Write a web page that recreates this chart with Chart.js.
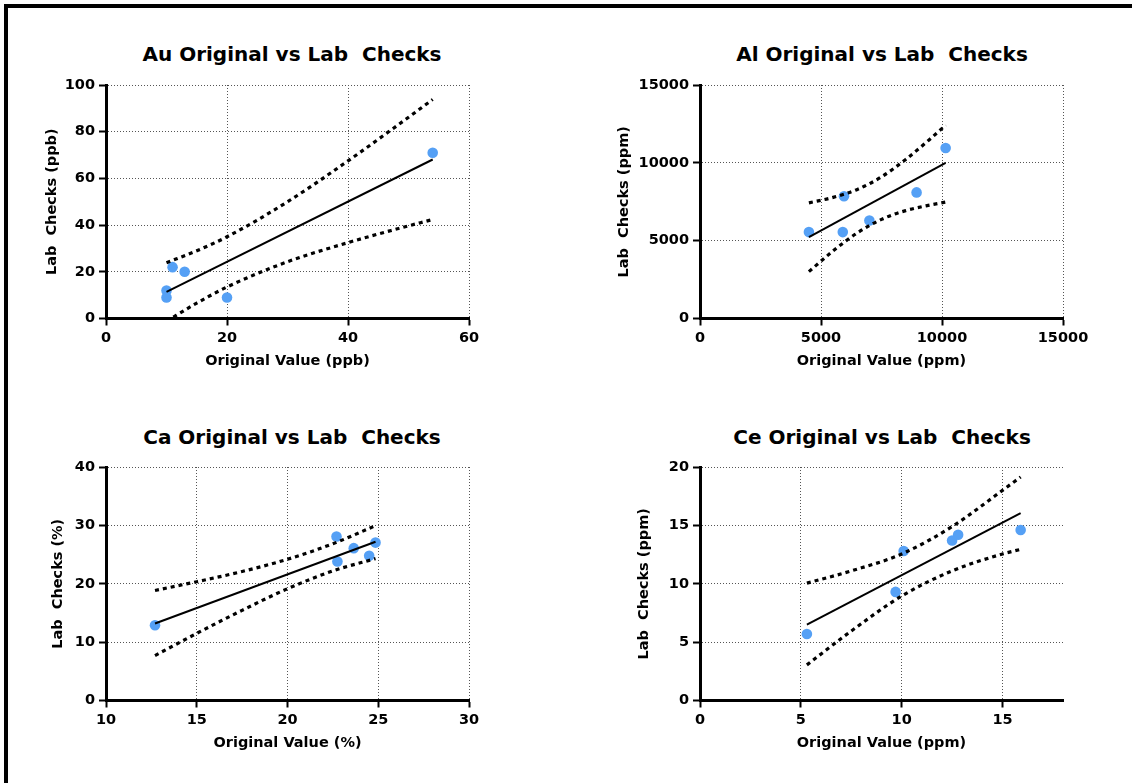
<!DOCTYPE html>
<html>
<head>
<meta charset="utf-8">
<script src="https://cdn.jsdelivr.net/npm/chart.js@4/dist/chart.umd.min.js"></script>
<style>
    body { margin: 0; background: #fff; }
    #page { position: relative; width: 1132px; height: 783px; overflow: hidden; }
    #frame {
        position: absolute; left: 4px; top: 4px; width: 1128px; height: 779px;
        border-left: 4px solid #000; border-top: 4px solid #000;
    }
    canvas { position: absolute; }
    .title {
        position: absolute; width: 420px; text-align: center;
        font: bold 20px "DejaVu Sans"; line-height: 20px; color: #000; white-space: pre;
    }
</style>
</head>
<body>
<div id="page">
    <div id="frame"></div>
    <div class="title" style="left: 82px; top: 44px;">Au Original vs Lab  Checks</div>
    <div class="title" style="left: 672px; top: 44px;">Al Original vs Lab  Checks</div>
    <div class="title" style="left: 82px; top: 427px;">Ca Original vs Lab  Checks</div>
    <div class="title" style="left: 672px; top: 427px;">Ce Original vs Lab  Checks</div>
    <canvas id="auChart" width="566" height="391" style="left: 0px; top: 0px;"></canvas>
    <canvas id="alChart" width="566" height="391" style="left: 594px; top: 0px;"></canvas>
    <canvas id="caChart" width="566" height="391" style="left: 0px; top: 382px;"></canvas>
    <canvas id="ceChart" width="566" height="391" style="left: 594px; top: 382px;"></canvas>
</div>
<script>
// Au (ppb)
const auOriginal = [11, 13, 10, 10, 20, 54];
const auLab = [22, 20, 12, 9, 9, 71];
const auFitX = [10, 54];
const auFitY = [11.4, 68.1];
const auBandX = [10, 15, 20, 30, 40, 47, 54];
const auUpper = [23.9, 29.0, 35.0, 50.0, 67.5, 80.5, 93.8];
const auLower = [-1.2, 6.6, 13.5, 24.3, 32.5, 37.6, 42.4];

// Al (ppm)
const alOriginal = [4500, 5950, 5900, 7000, 8950, 10150];
const alLab = [5550, 7850, 5550, 6300, 8100, 10950];
const alFitX = [4500, 10150];
const alFitY = [5220, 10000];
const alBandX = [4500, 5500, 6500, 7500, 8500, 9500, 10150];
const alUpper = [7430, 7780, 8290, 9100, 10220, 11520, 12420];
const alLower = [3010, 4340, 5500, 6370, 6930, 7290, 7480];

// Ca (%)
const caOriginal = [12.7, 22.7, 22.75, 23.65, 24.5, 24.85];
const caLab = [12.9, 28.1, 23.8, 26.1, 24.8, 27.05];
const caFitX = [12.7, 24.85];
const caFitY = [13.2, 27.2];
const caBandX = [12.7, 15, 17.5, 20, 22.5, 24.85];
const caUpper = [18.85, 20.35, 22.1, 24.2, 26.85, 29.95];
const caLower = [7.7, 11.5, 15.45, 19.15, 22.2, 24.3];

// Ce (ppm)
const ceOriginal = [5.3, 9.7, 10.1, 12.5, 12.8, 15.9];
const ceLab = [5.7, 9.3, 12.8, 13.7, 14.2, 14.6];
const ceFitX = [5.3, 15.9];
const ceFitY = [6.5, 16.05];
const ceBandX = [5.3, 7.5, 10, 12.5, 15, 15.9];
const ceUpper = [10.05, 11.1, 12.55, 14.9, 18.0, 19.15];
const ceLower = [3.05, 5.95, 8.95, 11.1, 12.55, 12.95];

const pointColor = "rgb(85, 160, 245)";
const fontFamily = "DejaVu Sans";

function pairs(xs, ys) {
    return xs.map((x, i) => ({ x: x, y: ys[i] }));
}

// padLeft decides where the rotated y title sits; the plot always starts 106px in
function axis(min, max, step, label, isX, padLeft) {
    return {
        type: "linear",
        min: min,
        max: max,
        ticks: {
            stepSize: step,
            includeBounds: false,
            padding: 4,
            color: "#000",
            font: { family: fontFamily, size: 14.5, weight: "bold" },
            callback: (v) => String(v),
        },
        grid: {
            color: "#555",
            lineWidth: 1,
            tickLength: 7,
            tickWidth: 2,
            tickColor: "#000",
            tickBorderDash: [],
        },
        border: { color: "#000", width: 3, dash: [1, 2] },
        title: {
            display: true,
            text: label,
            color: "#000",
            font: { family: fontFamily, size: 14.5, weight: "bold" },
            padding: isX ? { top: 0, bottom: 21 } : { top: 0, bottom: 0 },
        },
        afterFit: (s) => {
            if (isX) s.height = 72.5;
            else s.width = 106 - padLeft;
        },
    };
}

function drawPanel(id, xs, ys, fitX, fitY, bandX, upper, lower, xAxis, yAxis, padLeft) {
    const dashed = {
        borderColor: "#000",
        borderWidth: 3.2,
        borderDash: [4, 4],
        pointRadius: 0,
        showLine: true,
        cubicInterpolationMode: "monotone",
        clip: 0,
    };
    new Chart(document.getElementById(id), {
        type: "scatter",
        data: {
            datasets: [
                Object.assign({ data: pairs(bandX, upper) }, dashed),
                Object.assign({ data: pairs(bandX, lower) }, dashed),
                {
                    data: pairs(fitX, fitY),
                    borderColor: "#000",
                    borderWidth: 2,
                    pointRadius: 0,
                    showLine: true,
                    clip: 0,
                },
                {
                    data: pairs(xs, ys),
                    backgroundColor: pointColor,
                    borderWidth: 0,
                    pointRadius: 5.3,
                    clip: false,
                },
            ],
        },
        options: {
            responsive: false,
            animation: false,
            layout: { padding: { left: padLeft, right: 97, top: 85, bottom: 0 } },
            plugins: {
                legend: { display: false },
                tooltip: { enabled: false },
            },
            scales: { x: xAxis, y: yAxis },
        },
    });
}

drawPanel("auChart", auOriginal, auLab, auFitX, auFitY, auBandX, auUpper, auLower,
    axis(0, 60, 20, "Original Value (ppb)", true, 44),
    axis(0, 100, 20, "Lab  Checks (ppb)", false, 44), 44);

drawPanel("alChart", alOriginal, alLab, alFitX, alFitY, alBandX, alUpper, alLower,
    axis(0, 15000, 5000, "Original Value (ppm)", true, 22),
    axis(0, 15000, 5000, "Lab  Checks (ppm)", false, 22), 22);

drawPanel("caChart", caOriginal, caLab, caFitX, caFitY, caBandX, caUpper, caLower,
    axis(10, 30, 5, "Original Value (%)", true, 50),
    axis(0, 40, 10, "Lab  Checks (%)", false, 50), 50);

drawPanel("ceChart", ceOriginal, ceLab, ceFitX, ceFitY, ceBandX, ceUpper, ceLower,
    axis(0, 18, 5, "Original Value (ppm)", true, 42),
    axis(0, 20, 5, "Lab  Checks (ppm)", false, 42), 42);
</script>
</body>
</html>
